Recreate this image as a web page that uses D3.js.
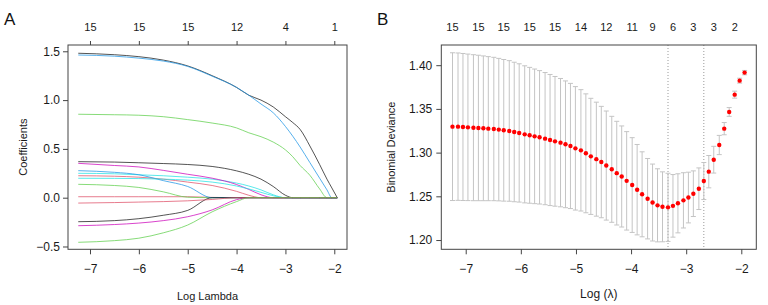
<!DOCTYPE html>
<html>
<head>
<meta charset="utf-8">
<script src="https://cdn.jsdelivr.net/npm/d3@7"></script>
<style>
  body { margin: 0; background: #fff; }
  svg { display: block; font-family: "Liberation Sans", Arial, sans-serif; }
</style>
</head>
<body>
<svg id="chart" width="768" height="305"></svg>
<script>
// ---- Panel A: coefficient paths (log lambda knots) ----
const pathLogLambda = [-7.24, -6.5, -6.0, -5.5, -5.0, -4.5, -4.0, -3.75, -3.5, -3.25, -3.0, -2.85, -2.7, -2.5, -2.3, -2.15, -2.05, -1.94];

const coefBlack1   = [1.48, 1.465, 1.445, 1.41, 1.35, 1.25, 1.13, 1.05, 1.00, 0.93, 0.83, 0.77, 0.70, 0.53, 0.34, 0.19, 0.10, 0];
const coefRed1     = [0.225, 0.22, 0.21, 0.19, 0.16, 0.125, 0.065, 0.025, 0, 0, 0, 0, 0, 0, 0, 0, 0, 0];
const coefGreen1   = [0.855, 0.85, 0.845, 0.83, 0.80, 0.765, 0.715, 0.665, 0.625, 0.57, 0.49, 0.42, 0.33, 0.23, 0.09, 0, 0, 0];
const coefBlue1    = [1.462, 1.45, 1.43, 1.40, 1.345, 1.245, 1.13, 1.05, 0.96, 0.87, 0.73, 0.63, 0.52, 0.36, 0.20, 0.08, 0, 0];
const coefCyan1    = [0.25, 0.245, 0.235, 0.225, 0.21, 0.19, 0.15, 0.12, 0.08, 0.03, 0, 0, 0, 0, 0, 0, 0, 0];
const coefMagenta1 = [0.352, 0.33, 0.315, 0.28, 0.24, 0.20, 0.135, 0.085, 0.03, 0, 0, 0, 0, 0, 0, 0, 0, 0];
const coefBlack2   = [0.369, 0.365, 0.358, 0.35, 0.34, 0.32, 0.275, 0.24, 0.19, 0.115, 0.025, 0, 0, 0, 0, 0, 0, 0];
const coefRed2     = [0.01, 0.01, 0.01, 0.01, 0.01, 0.003, 0, 0, 0, 0, 0, 0, 0, 0, 0, 0, 0, 0];
const coefGreen2   = [0.137, 0.125, 0.105, 0.06, 0.005, 0, 0, 0, 0, 0, 0, 0, 0, 0, 0, 0, 0, 0];
const coefBlue2    = [0.277, 0.26, 0.235, 0.175, 0.115, 0, 0, 0, 0, 0, 0, 0, 0, 0, 0, 0, 0, 0];
const coefCyan2    = [0.199, 0.198, 0.196, 0.19, 0.18, 0.16, 0.12, 0.09, 0.055, 0.02, 0, 0, 0, 0, 0, 0, 0, 0];
const coefMagenta2 = [-0.287, -0.275, -0.26, -0.235, -0.195, -0.125, -0.02, 0, 0, 0, 0, 0, 0, 0, 0, 0, 0, 0];
const coefBlack3   = [-0.246, -0.235, -0.215, -0.18, -0.13, 0, 0, 0, 0, 0, 0, 0, 0, 0, 0, 0, 0, 0];
const coefRed3     = [-0.055, -0.05, -0.045, -0.04, -0.032, -0.018, 0, 0, 0, 0, 0, 0, 0, 0, 0, 0, 0, 0];
const coefGreen3   = [-0.457, -0.44, -0.415, -0.36, -0.28, -0.145, -0.04, 0, 0, 0, 0, 0, 0, 0, 0, 0, 0, 0];

const topTicksA = [-7, -6, -5, -4, -3, -2];
const topLabelsA = ["15", "15", "15", "12", "4", "1"];

// ---- Panel B: cross-validation curve ----
const cvLogLambda = [-7.24, -7.14, -7.05, -6.96, -6.86, -6.77, -6.68, -6.59, -6.49, -6.40,
  -6.31, -6.21, -6.12, -6.03, -5.93, -5.84, -5.75, -5.66, -5.56, -5.47,
  -5.38, -5.28, -5.19, -5.10, -5.01, -4.91, -4.82, -4.73, -4.63, -4.54,
  -4.45, -4.35, -4.26, -4.17, -4.08, -3.98, -3.89, -3.80, -3.70, -3.61,
  -3.52, -3.43, -3.33, -3.24, -3.15, -3.05, -2.96, -2.87, -2.77, -2.68,
  -2.59, -2.50, -2.40, -2.31, -2.22, -2.12, -2.03, -1.94];
const cvMean = [1.3297, 1.3297, 1.3293, 1.3289, 1.3285, 1.3282, 1.3278, 1.3274, 1.3270, 1.3263,
  1.3255, 1.3248, 1.3236, 1.3225, 1.3209, 1.3198, 1.3186, 1.3175, 1.3160, 1.3144,
  1.3129, 1.3114, 1.3095, 1.3076, 1.3049, 1.3026, 1.2992, 1.2957, 1.2925, 1.2892,
  1.2852, 1.2809, 1.2765, 1.2727, 1.2677, 1.2629, 1.2576, 1.2523, 1.2473, 1.2429,
  1.2397, 1.2380, 1.2374, 1.2391, 1.2420, 1.2454, 1.2486, 1.2530, 1.2587, 1.2675,
  1.2782, 1.2919, 1.3087, 1.3274, 1.3465, 1.3663, 1.3823, 1.3915];
const cvSE = [0.0845, 0.0843, 0.0841, 0.0838, 0.0835, 0.0832, 0.0828, 0.0824, 0.0820, 0.0815,
  0.0810, 0.0804, 0.0798, 0.0791, 0.0784, 0.0777, 0.0770, 0.0763, 0.0756, 0.0750,
  0.0742, 0.0734, 0.0725, 0.0716, 0.0706, 0.0694, 0.0680, 0.0664, 0.0652, 0.0637,
  0.0624, 0.0606, 0.0593, 0.0578, 0.0563, 0.0542, 0.0517, 0.0486, 0.0460, 0.0440,
  0.0418, 0.0400, 0.0390, 0.0358, 0.0338, 0.0316, 0.0290, 0.0261, 0.0238, 0.0212,
  0.0185, 0.0153, 0.0110, 0.0070, 0.0050, 0.0040, 0.0028, 0.0025];

const lambdaMinLog = -3.33;
const lambda1seLog = -2.68;

const topTicksB = [-7.24, -6.77, -6.31, -5.84, -5.38, -4.91, -4.45, -3.98, -3.61, -3.24, -2.87, -2.50, -2.12];
const topLabelsB = ["15", "15", "15", "15", "15", "14", "12", "11", "9", "6", "3", "3", "2"];

// R default palette, columns cycle through it
const coefSeries = [coefBlack1, coefRed1, coefGreen1, coefBlue1, coefCyan1, coefMagenta1,
  coefBlack2, coefRed2, coefGreen2, coefBlue2, coefCyan2, coefMagenta2,
  coefBlack3, coefRed3, coefGreen3];
const palette = ["#000000", "#DF536B", "#61D04F", "#2297E6", "#28E2E5", "#CD0BBC"];

const svg = d3.select("#chart");
const frameColor = "#444";
const textColor = "#1a1a1a";

svg.append("rect").attr("width", 768).attr("height", 305).attr("fill", "#fff");

function styleAxis(g, fontSize) {
    g.select(".domain").remove();
    g.selectAll(".tick line").attr("stroke", frameColor);
    g.selectAll(".tick text")
        .attr("fill", textColor)
        .style("font-size", fontSize + "px")
        .style("font-family", "'Liberation Sans', Arial, sans-serif");
}

// ======================= Panel A =======================
const boxA = {left: 68, right: 347, top: 45, bottom: 249.3};
const xA = d3.scaleLinear().domain([-7.45, -1.74]).range([boxA.left, boxA.right]);
const yA = d3.scaleLinear().domain([-0.5287, 1.5645]).range([boxA.bottom, boxA.top]);

const lineA = d3.line()
    .x((d, i) => xA(pathLogLambda[i]))
    .y(d => yA(d))
    .curve(d3.curveMonotoneX);

const pathsA = svg.append("g");
coefSeries.forEach((series, k) => {
    pathsA.append("path")
        .datum(series)
        .attr("d", lineA)
        .attr("fill", "none")
        .attr("stroke", palette[k % palette.length])
        .attr("stroke-width", 0.9)
        .attr("stroke-opacity", k % 6 === 0 ? 0.75 : 0.85);
});

svg.append("g")
    .attr("transform", `translate(0,${boxA.bottom})`)
    .call(d3.axisBottom(xA).tickValues([-7, -6, -5, -4, -3, -2]).tickFormat(d3.format("d")).tickSize(5))
    .call(g => styleAxis(g, 12))
    .call(g => g.selectAll(".tick text").attr("y", 20).attr("dy", "0.35em"));

svg.append("g")
    .attr("transform", `translate(${boxA.left},0)`)
    .call(d3.axisLeft(yA).tickValues([-0.5, 0, 0.5, 1.0, 1.5]).tickFormat(d3.format(".1f")).tickSize(5))
    .call(g => styleAxis(g, 12))
    .call(g => g.selectAll(".tick text").attr("x", -8));

svg.append("g")
    .attr("transform", `translate(0,${boxA.top})`)
    .call(d3.axisTop(xA).tickValues(topTicksA).tickFormat((d, i) => topLabelsA[i]).tickSize(4))
    .call(g => styleAxis(g, 11))
    .call(g => g.selectAll(".tick text").attr("y", -18).attr("dy", "0.35em"));

svg.append("rect")
    .attr("x", boxA.left).attr("y", boxA.top)
    .attr("width", boxA.right - boxA.left).attr("height", boxA.bottom - boxA.top)
    .attr("fill", "none").attr("stroke", frameColor).attr("stroke-width", 1);

svg.append("text")
    .attr("x", (boxA.left + boxA.right) / 2).attr("y", 296).attr("dy", "0.35em")
    .attr("text-anchor", "middle").attr("fill", textColor)
    .style("font-size", "11px")
    .text("Log Lambda");

svg.append("text")
    .attr("transform", `translate(23,${(boxA.top + boxA.bottom) / 2}) rotate(-90)`)
    .attr("dy", "0.35em")
    .attr("text-anchor", "middle").attr("fill", textColor)
    .style("font-size", "11px")
    .text("Coefficients");

svg.append("text")
    .attr("x", 4).attr("y", 25)
    .attr("fill", "#111")
    .style("font-size", "17px")
    .text("A");

// ======================= Panel B =======================
const boxB = {left: 441.3, right: 756.3, top: 45, bottom: 249.3};
const xB = d3.scaleLinear().domain([-7.443, -1.728]).range([boxB.left, boxB.right]);
const yB = d3.scaleLinear().domain([1.1894, 1.4231]).range([boxB.bottom, boxB.top]);

const cvRows = cvLogLambda.map((l, i) => ({l: l, m: cvMean[i], se: cvSE[i]}));

// reference lines at lambda.min and lambda.1se
svg.append("g").selectAll("line")
    .data([lambdaMinLog, lambda1seLog])
    .join("line")
    .attr("x1", d => xB(d)).attr("x2", d => xB(d))
    .attr("y1", boxB.top).attr("y2", boxB.bottom)
    .attr("stroke", "#9a9a9a")
    .attr("stroke-width", 1)
    .attr("stroke-dasharray", "1,2");

// error bars
const bars = svg.append("g")
    .attr("stroke", "#c4c4c4")
    .attr("stroke-width", 1);

bars.selectAll(".stem")
    .data(cvRows)
    .join("line")
    .attr("class", "stem")
    .attr("x1", d => xB(d.l)).attr("x2", d => xB(d.l))
    .attr("y1", d => yB(d.m + d.se)).attr("y2", d => yB(d.m - d.se));

bars.selectAll(".capTop")
    .data(cvRows)
    .join("line")
    .attr("class", "capTop")
    .attr("x1", d => xB(d.l) - 2.5).attr("x2", d => xB(d.l) + 2.5)
    .attr("y1", d => yB(d.m + d.se)).attr("y2", d => yB(d.m + d.se));

bars.selectAll(".capBottom")
    .data(cvRows)
    .join("line")
    .attr("class", "capBottom")
    .attr("x1", d => xB(d.l) - 2.5).attr("x2", d => xB(d.l) + 2.5)
    .attr("y1", d => yB(d.m - d.se)).attr("y2", d => yB(d.m - d.se));

svg.append("g").selectAll("circle")
    .data(cvRows)
    .join("circle")
    .attr("cx", d => xB(d.l))
    .attr("cy", d => yB(d.m))
    .attr("r", 2.2)
    .attr("fill", "#ff0000");

svg.append("g")
    .attr("transform", `translate(0,${boxB.bottom})`)
    .call(d3.axisBottom(xB).tickValues([-7, -6, -5, -4, -3, -2]).tickFormat(d3.format("d")).tickSize(5))
    .call(g => styleAxis(g, 12))
    .call(g => g.selectAll(".tick text").attr("y", 20).attr("dy", "0.35em"));

svg.append("g")
    .attr("transform", `translate(${boxB.left},0)`)
    .call(d3.axisLeft(yB).tickValues([1.20, 1.25, 1.30, 1.35, 1.40]).tickFormat(d3.format(".2f")).tickSize(5))
    .call(g => styleAxis(g, 12))
    .call(g => g.selectAll(".tick text").attr("x", -9));

svg.append("g").selectAll("text")
    .data(topTicksB)
    .join("text")
    .attr("x", d => xB(d))
    .attr("y", 27).attr("dy", "0.35em")
    .attr("text-anchor", "middle")
    .attr("fill", textColor)
    .style("font-size", "11px")
    .text((d, i) => topLabelsB[i]);

svg.append("rect")
    .attr("x", boxB.left).attr("y", boxB.top)
    .attr("width", boxB.right - boxB.left).attr("height", boxB.bottom - boxB.top)
    .attr("fill", "none").attr("stroke", frameColor).attr("stroke-width", 1);

svg.append("text")
    .attr("x", (boxB.left + boxB.right) / 2).attr("y", 293.5).attr("dy", "0.35em")
    .attr("text-anchor", "middle").attr("fill", textColor)
    .style("font-size", "12px")
    .text("Log (λ)");

svg.append("text")
    .attr("transform", `translate(391,${(boxB.top + boxB.bottom) / 2}) rotate(-90)`)
    .attr("dy", "0.35em")
    .attr("text-anchor", "middle").attr("fill", textColor)
    .style("font-size", "11px")
    .text("Binomial Deviance");

svg.append("text")
    .attr("x", 377).attr("y", 25)
    .attr("fill", "#111")
    .style("font-size", "17px")
    .text("B");
</script>
</body>
</html>
